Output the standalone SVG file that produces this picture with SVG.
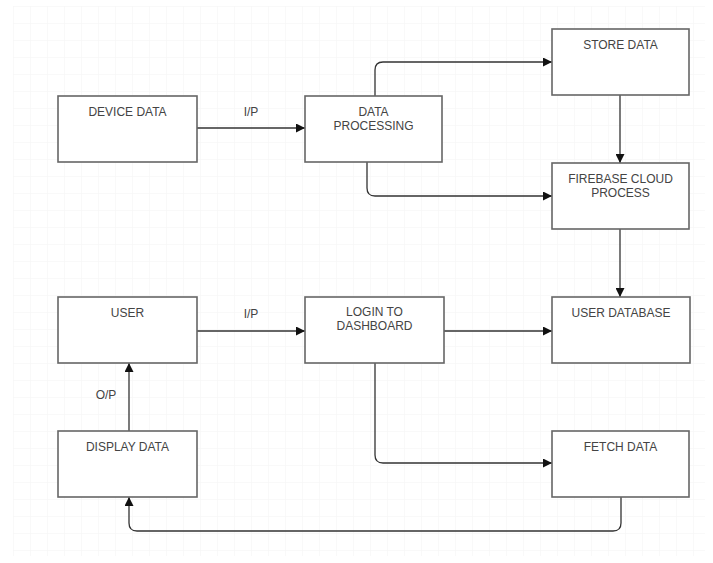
<svg xmlns="http://www.w3.org/2000/svg" width="713" height="563" viewBox="0 0 713 563">
<defs>
<pattern id="grid" x="13" y="6" width="17" height="17" patternUnits="userSpaceOnUse">
<path d="M17 0 H0 V17" fill="none" stroke="#f4f4f4" stroke-width="1"/>
</pattern>
<marker id="arr" viewBox="0 0 10 10" refX="10" refY="5" markerWidth="10" markerHeight="9" markerUnits="userSpaceOnUse" orient="auto">
<path d="M0 0 L10 5 L0 10 Z" fill="#111"/>
</marker>
</defs>
<style>
.box{fill:#fff;stroke:#666;stroke-width:1.6}
.t{font-family:"Liberation Sans",Arial,sans-serif;font-size:12px;fill:#444;text-anchor:middle}
.c{fill:none;stroke:#333;stroke-width:1.3;marker-end:url(#arr)}
.l{font-family:"Liberation Sans",Arial,sans-serif;font-size:12px;fill:#444;text-anchor:middle}
</style>
<rect width="713" height="563" fill="#fff"/>
<rect x="13" y="6" width="692" height="550" fill="url(#grid)"/>
<g id="connectors">
<path class="c" d="M197 128 H305"/>
<path class="c" d="M375 96 V70 Q375 62 383 62 H552"/>
<path class="c" d="M367 162 V188 Q367 196 375 196 H552"/>
<path class="c" d="M620 95 V163"/>
<path class="c" d="M620 229 V297"/>
<path class="c" d="M197 331 H305"/>
<path class="c" d="M444 331 H552"/>
<path class="c" d="M375 363 V455 Q375 463 383 463 H552"/>
<path class="c" d="M621 497 V523 Q621 531 613 531 H137 Q129 531 129 523 V497"/>
<path class="c" d="M129 431 V363"/>
<text class="l" x="251" y="116">I/P</text>
<text class="l" x="251" y="318">I/P</text>
<text class="l" x="106" y="399">O/P</text>
</g>
<g id="device-data"><rect class="box" x="58" y="96" width="139" height="66"/><text class="t" x="127.5" y="116">DEVICE DATA</text></g>
<g id="data-processing"><rect class="box" x="305" y="96" width="137" height="66"/><text class="t" x="373.5" y="116">DATA</text><text class="t" x="373.5" y="130">PROCESSING</text></g>
<g id="store-data"><rect class="box" x="552" y="29" width="137" height="66"/><text class="t" x="620.5" y="49">STORE DATA</text></g>
<g id="firebase"><rect class="box" x="552" y="163" width="137" height="66"/><text class="t" x="620.5" y="183">FIREBASE CLOUD</text><text class="t" x="620.5" y="197">PROCESS</text></g>
<g id="user"><rect class="box" x="58" y="297" width="139" height="66"/><text class="t" x="127.5" y="317">USER</text></g>
<g id="login"><rect class="box" x="305" y="297" width="139" height="66"/><text class="t" x="374.5" y="316">LOGIN TO</text><text class="t" x="374.5" y="330">DASHBOARD</text></g>
<g id="user-database"><rect class="box" x="552" y="297" width="138" height="66"/><text class="t" x="621" y="317">USER DATABASE</text></g>
<g id="display-data"><rect class="box" x="58" y="431" width="139" height="66"/><text class="t" x="127.5" y="451">DISPLAY DATA</text></g>
<g id="fetch-data"><rect class="box" x="552" y="431" width="137" height="66"/><text class="t" x="620.5" y="451">FETCH DATA</text></g>
</svg>
